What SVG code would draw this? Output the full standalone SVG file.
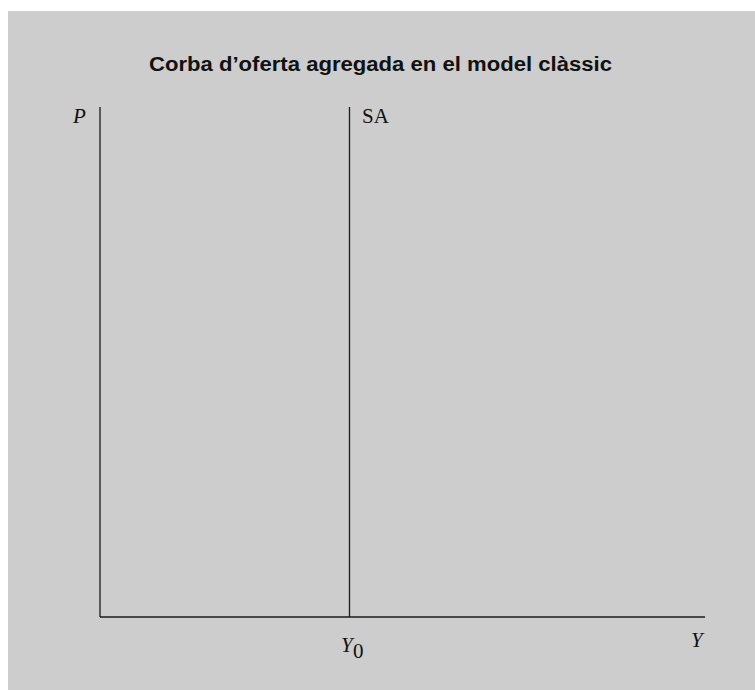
<svg xmlns="http://www.w3.org/2000/svg" width="755" height="690" viewBox="0 0 755 690">
<style>
.ax{stroke:#1a1a1a;stroke-width:1.3;fill:none}
.lab{font-family:"Liberation Serif","Times New Roman",serif;font-size:21px;fill:#111}
.it{font-style:italic}
.title{font-family:"Liberation Sans",Arial,sans-serif;font-weight:bold;font-size:20px;fill:#111}
</style>
<rect x="8" y="11" width="747" height="679" fill="#cdcdcd"/>
<text class="title" x="380.5" y="71" text-anchor="middle" textLength="463" lengthAdjust="spacingAndGlyphs">Corba d’oferta agregada en el model clàssic</text>
<g id="connectors">
<line class="ax" x1="100" y1="107" x2="100" y2="617"/>
<line class="ax" x1="100" y1="617" x2="705" y2="617"/>
<line class="ax" x1="349.5" y1="107" x2="349.5" y2="617"/>
</g>
<g id="label-P"><text class="lab it" x="73" y="123">P</text></g>
<g id="label-SA"><text class="lab" x="362" y="123">SA</text></g>
<g id="label-Y0"><text class="lab it" x="341" y="652">Y</text><text class="lab" x="353" y="658" font-size="14">0</text></g>
<g id="label-Y"><text class="lab it" x="691" y="647">Y</text></g>
</svg>
